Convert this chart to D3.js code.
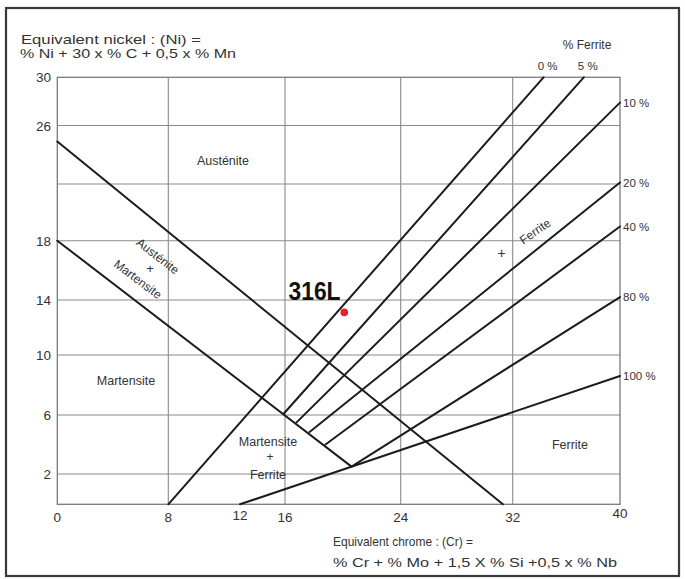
<!DOCTYPE html>
<html>
<head>
<meta charset="utf-8">
<script src="https://cdn.jsdelivr.net/npm/d3@7"></script>
<style>
  html, body { margin: 0; padding: 0; background: #fff; }
  svg { display: block; }
  text { font-family: "Liberation Sans", Arial, Helvetica, sans-serif; fill: #333; }
</style>
</head>
<body>
<svg id="chart" width="685" height="579"></svg>
<script>
// ---- data ----
const xTicks = [0, 8, 12, 16, 24, 32, 40];
const yTicks = [2, 6, 10, 14, 18, 26, 30];
const xGrid = [8, 16, 24, 32];
const yGrid = [2, 6, 10, 14, 18, 22, 26];

const ferriteLabels = ["0 %", "5 %", "10 %", "20 %", "40 %", "80 %", "100 %"];
const ferriteStartCr = [8, 15.9, 16.8, 17.7, 18.8, 20.6, 12];
const ferriteStartNi = [0, 6.1, 5.5, 4.85, 4.0, 2.5, 0];
const ferriteEndCr = [34.3, 37.3, 40, 40, 40, 40, 40];
const ferriteEndNi = [30, 30, 27.9, 22.1, 19.0, 14.2, 8.6];

const austeniteBoundaryCr = [0, 31.3];
const austeniteBoundaryNi = [24.9, 0];
const martensiteBoundaryCr = [0, 20.6];
const martensiteBoundaryNi = [18, 2.5];

const pointName = "316L";
const pointCr = 20.1;
const pointNi = 13.1;

const regionLabels = ["Austénite", "Martensite", "Martensite", "+", "Ferrite", "Ferrite"];
const regionCr = [11.05, 4.95, 14.49, 14.67, 14.49, 36.27];
const regionNi = [23.64, 8.33, 4.2, 3.15, 2.0, 4.03];

// ---- layout ----
const svg = d3.select("#chart");
const x = d3.scaleLinear()
  .domain([0, 8, 12, 16, 24, 32, 40])
  .range([57.3, 168.3, 240, 285, 400.7, 512.7, 620]);
const y = d3.scaleLinear()
  .domain([0, 2, 6, 10, 14, 18, 22, 26, 30])
  .range([504.3, 474, 415, 355, 300, 240.7, 184, 125.5, 77.3]);

// outer frame
svg.append("rect")
  .attr("x", 6).attr("y", 8).attr("width", 673).attr("height", 568)
  .attr("fill", "none").attr("stroke", "#3a3a3a").attr("stroke-width", 2.2);

// grid
svg.append("g").selectAll("line").data(xGrid).join("line")
  .attr("x1", d => x(d)).attr("x2", d => x(d))
  .attr("y1", y(0)).attr("y2", y(30))
  .attr("stroke", "#8a8a8a").attr("stroke-width", 1.1);
svg.append("g").selectAll("line").data(yGrid).join("line")
  .attr("x1", x(0)).attr("x2", x(40))
  .attr("y1", d => y(d)).attr("y2", d => y(d))
  .attr("stroke", "#8a8a8a").attr("stroke-width", 1.1);

// plot border
svg.append("rect")
  .attr("x", x(0)).attr("y", y(30))
  .attr("width", x(40) - x(0)).attr("height", y(0) - y(30))
  .attr("fill", "none").attr("stroke", "#7a7a7a").attr("stroke-width", 1.3);

// axes tick labels
svg.append("g").selectAll("text").data(xTicks).join("text")
  .attr("x", d => x(d)).attr("y", d => d === 12 ? 520 : (d === 40 ? 518 : 522))
  .attr("text-anchor", "middle").attr("font-size", 13.5)
  .text(d => d);
svg.append("g").selectAll("text").data(yTicks).join("text")
  .attr("x", 51).attr("y", d => y(d) + 5)
  .attr("text-anchor", "end").attr("font-size", 13.5)
  .text(d => d);

// boundary lines
const line = d3.line().x(d => x(d[0])).y(d => y(d[1]));
const lineStyle = sel => sel.attr("fill", "none").attr("stroke", "#1c1c1c")
  .attr("stroke-width", 2).attr("stroke-linecap", "round");

svg.append("path")
  .attr("d", line(austeniteBoundaryCr.map((c, i) => [c, austeniteBoundaryNi[i]])))
  .call(lineStyle);
svg.append("path")
  .attr("d", line(martensiteBoundaryCr.map((c, i) => [c, martensiteBoundaryNi[i]])))
  .call(lineStyle);

// ferrite lines
const ferrite = ferriteLabels.map((lab, i) => ({
  lab,
  pts: [[ferriteStartCr[i], ferriteStartNi[i]], [ferriteEndCr[i], ferriteEndNi[i]]]
}));
svg.append("g").selectAll("path").data(ferrite).join("path")
  .attr("d", d => line(d.pts)).call(lineStyle);

// ferrite labels
svg.append("g").selectAll("text").data(ferrite).join("text")
  .attr("x", d => d.pts[1][1] >= 30 ? x(d.pts[1][0]) + 4 : x(d.pts[1][0]) + 3)
  .attr("y", d => d.pts[1][1] >= 30 ? y(d.pts[1][1]) - 7 : y(d.pts[1][1]) + 4)
  .attr("text-anchor", d => d.pts[1][1] >= 30 ? "middle" : "start")
  .attr("font-size", 11.5)
  .text(d => d.lab);

svg.append("text").attr("x", 587).attr("y", 49)
  .attr("text-anchor", "middle").attr("font-size", 12).text("% Ferrite");

// region labels
svg.append("g").selectAll("text").data(regionLabels).join("text")
  .attr("x", (d, i) => x(regionCr[i])).attr("y", (d, i) => y(regionNi[i]) + (d === "+" ? 4 : 4.5))
  .attr("text-anchor", "middle").attr("font-size", d => d === "+" ? 12 : 12.5)
  .text(d => d);

// rotated labels
const rot = [
  { t: "Austénite", c: 7.26, n: 16.97, a: 38, s: 12 },
  { t: "+", c: 6.68, n: 16.15, a: 0, s: 13 },
  { t: "Martensite", c: 5.82, n: 15.42, a: 37, s: 12 },
  { t: "+", c: 31.21, n: 17.15, a: 0, s: 14 },
  { t: "Ferrite", c: 33.66, n: 18.68, a: -35, s: 12 }
];
svg.append("g").selectAll("text").data(rot).join("text")
  .attr("transform", d => `translate(${x(d.c)},${y(d.n)}) rotate(${d.a})`)
  .attr("y", 4.5)
  .attr("text-anchor", "middle").attr("font-size", d => d.s)
  .text(d => d.t);

// 316L point
svg.append("circle")
  .attr("cx", x(pointCr)).attr("cy", y(pointNi)).attr("r", 3.8)
  .attr("fill", "#e3202c");
svg.append("text")
  .attr("x", x(18.04)).attr("y", 300)
  .attr("text-anchor", "middle").attr("font-size", 25).attr("font-weight", "bold")
  .attr("textLength", 52).attr("lengthAdjust", "spacingAndGlyphs")
  .style("fill", "#111")
  .text(pointName);

// axis titles
svg.append("text").attr("x", 21).attr("y", 44).attr("font-size", 13.5)
  .attr("textLength", 180).attr("lengthAdjust", "spacingAndGlyphs")
  .text("Equivalent nickel : (Ni) =");
svg.append("text").attr("x", 20).attr("y", 58).attr("font-size", 13.5)
  .attr("textLength", 216).attr("lengthAdjust", "spacingAndGlyphs")
  .text("% Ni + 30 x % C + 0,5 x % Mn");
svg.append("text").attr("x", 333).attr("y", 546).attr("font-size", 13.5)
  .attr("textLength", 140).attr("lengthAdjust", "spacingAndGlyphs")
  .text("Equivalent chrome : (Cr) =");
svg.append("text").attr("x", 333).attr("y", 567).attr("font-size", 13.5)
  .attr("textLength", 284).attr("lengthAdjust", "spacingAndGlyphs")
  .text("% Cr + % Mo + 1,5 X % Si  +0,5 x % Nb");
</script>
</body>
</html>
